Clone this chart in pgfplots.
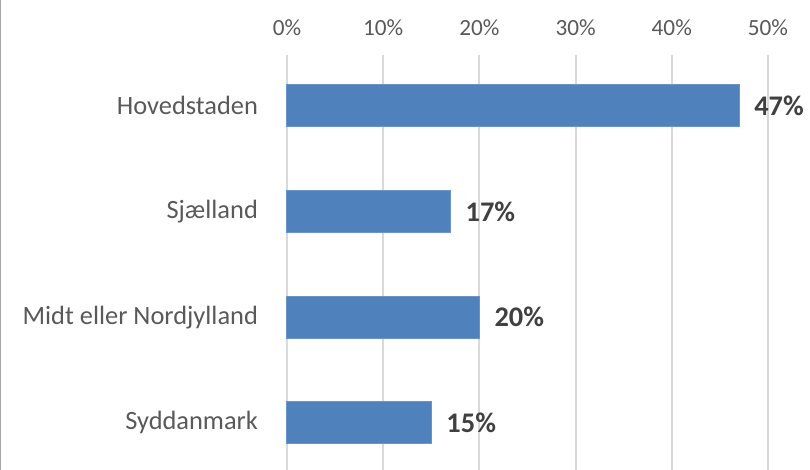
\documentclass[border=0pt]{standalone}
\usepackage{pgfplots}
\pgfplotsset{compat=1.18}
\usepackage{fontspec}
\setmainfont{Carlito}
\definecolor{barblue}{HTML}{4F81BD}
\definecolor{txtgray}{HTML}{595959}
\definecolor{lblgray}{HTML}{404040}
\definecolor{gridgray}{HTML}{D9D9D9}
\begin{document}
\begin{tikzpicture}
\begin{axis}[
  at={(0,0)}, anchor=south west,
  scale only axis,
  width=240.5pt, height=207.5pt,
  xbar, bar width=21pt,
  xmin=0, xmax=50,
  ymin=-0.445, ymax=3.48,
  xtick={0,10,20,30,40,50},
  xticklabel={\pgfmathprintnumber{\tick}\%},
  xticklabel pos=upper,
  ytick={0,1,2,3},
  yticklabels={Syddanmark,Midt eller Nordjylland,Sjælland,Hovedstaden},
  axis line style={draw=none},
  major tick length=0pt,
  xmajorgrids,
  grid style={gridgray, line width=1pt},
  /pgf/number format/assume math mode=true,
  xticklabel style={font=\fontsize{11.6pt}{13pt}\selectfont, text=txtgray, anchor=south, yshift=6pt},
  yticklabel style={font=\fontsize{13.2pt}{15pt}\selectfont, text=txtgray, anchor=east, xshift=-11pt},
  nodes near coords={\pgfmathprintnumber{\pgfplotspointmeta}\%},
  nodes near coords style={font=\bfseries\fontsize{14.2pt}{16pt}\selectfont, text=lblgray, anchor=west, xshift=4pt},
  point meta=x,
  clip=false,
]
\addplot[fill=barblue, draw=barblue!85!white, line width=0.5pt] coordinates {
  (15,0) (20,1) (17,2) (47,3)
};
\end{axis}
\draw[gray!70, line width=0.6pt] (-143.2pt,0) -- (-143.2pt,235pt);
\pgfresetboundingbox
\path[use as bounding box] (-143.5pt,0) rectangle (261.5pt,235pt);
\end{tikzpicture}
\end{document}
